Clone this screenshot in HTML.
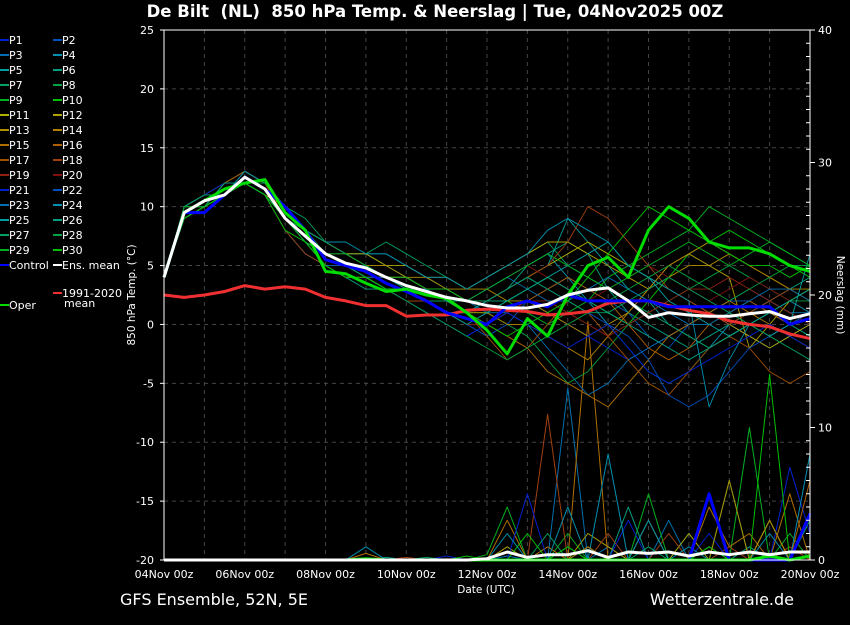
<!DOCTYPE html>
<html><head><meta charset="utf-8">
<style>
html,body{margin:0;padding:0;background:#000;}
body{width:850px;height:620px;overflow:hidden;font-family:"Liberation Sans","DejaVu Sans",sans-serif;}
svg text{fill:#fff;font-family:"DejaVu Sans","Liberation Sans",sans-serif;}
</style></head>
<body>
<svg id="chart" width="850" height="620" xmlns="http://www.w3.org/2000/svg">
<rect x="0" y="0" width="850" height="620" fill="#000"/>
<text x="435" y="17" text-anchor="middle" font-size="16.5" font-weight="bold">De Bilt &#160;(NL) &#160;850 hPa Temp. &amp; Neerslag | Tue, 04Nov2025 00Z</text>
<text x="120" y="605" font-size="16">GFS Ensemble, 52N, 5E</text>
<text x="794" y="605" text-anchor="end" font-size="16">Wetterzentrale.de</text>
<text x="486" y="593" text-anchor="middle" font-size="10.5">Date (UTC)</text>
<text transform="translate(135,295) rotate(-90)" text-anchor="middle" font-size="10.5">850 hPa Temp. (°C)</text>
<text transform="translate(837,295) rotate(90)" text-anchor="middle" font-size="10.5">Neerslag (mm)</text>
<g id="grid"></g>
<g id="precip"></g>
<g id="temps"></g>
<g id="axes"></g>
<g id="legend"></g>
</svg>
<script>
const xLabels=["04Nov 00z","06Nov 00z","08Nov 00z","10Nov 00z","12Nov 00z","14Nov 00z","16Nov 00z","18Nov 00z","20Nov 00z"];
const yTicks=[25,20,15,10,5,0,-5,-10,-15,-20];
const y2Ticks=[40,30,20,10,0];
const memberColors=["#0020d0","#0050c0","#0070b0","#0090b0","#00a0a0","#00a080","#00a060","#00a040","#00b020","#00c000","#b0b000","#b0a000","#b09000","#b08000","#b07000","#b06000","#a05000","#a04010","#902010","#801010"];
const members=[
[4,9,10,11,12,11,9,7,6,5,4,3,2,1,0,-1,0,1,2,1,0,-1,-2,-3,-2,-1,0,1,0,-1,-2,-1,0],
[4,10,11,12,13,12,10,8,6,5,5,4,3,2,1,0,-1,0,2,3,4,3,2,1,-1,-2,0,1,2,2,1,0,-1],
[4,9,10,11,12,11,8,6,5,5,4,4,4,3,2,2,1,1,0,-2,-4,-6,-5,-3,-2,-1,0,1,2,3,2,1,1],
[4,10,11,11,12,12,10,8,6,6,6,6,5,4,3,2,3,4,5,6,4,2,0,-2,-4,-5,-4,-2,0,1,2,1,0],
[4,9,10,12,13,12,10,8,7,6,6,5,4,3,2,1,2,3,4,5,9,7,5,3,2,0,-1,-2,-1,0,1,2,3],
[4,10,11,11,12,11,9,7,6,5,5,4,3,3,2,1,2,3,5,6,7,6,3,1,0,-1,-2,-1,0,1,2,3,4],
[4,10,10,11,13,12,10,9,7,6,6,7,6,5,4,3,4,5,6,7,5,4,3,2,1,0,-1,-2,-1,0,1,0,-1],
[4,9,10,11,12,11,9,7,5,4,4,3,3,2,1,1,1,0,-1,-3,-5,-4,-2,0,1,2,3,4,5,4,3,2,2],
[4,10,11,12,12,11,9,8,6,5,5,4,4,3,3,2,2,2,1,0,1,2,4,5,6,7,8,10,9,8,7,6,5],
[4,9,10,11,12,12,10,8,6,5,4,3,3,2,2,1,1,2,3,4,3,2,1,0,2,4,6,7,8,7,6,5,4],
[4,10,11,11,12,11,9,7,5,5,4,4,4,3,3,2,2,3,4,5,6,7,6,5,4,3,2,1,0,-1,-2,-1,0],
[4,9,10,11,12,11,10,8,7,6,6,5,5,4,4,3,4,5,6,7,7,6,5,4,3,5,6,5,4,-2,0,2,3],
[4,10,10,12,13,12,10,8,6,5,5,5,4,4,3,3,3,2,2,1,0,-1,0,1,3,4,5,5,6,5,4,3,3],
[4,9,10,11,12,11,9,7,6,5,4,3,2,2,1,1,1,0,0,-1,-2,-3,-1,1,3,5,6,7,6,5,4,3,2],
[4,10,11,11,12,11,9,8,7,6,5,4,4,3,2,1,0,-1,-2,-4,-5,-6,-7,-5,-3,-1,0,1,2,1,0,-1,-2],
[4,9,10,11,12,11,9,7,5,5,4,3,3,2,2,1,0,1,2,3,4,3,2,0,-2,-3,-2,0,1,2,1,0,1],
[4,10,11,12,13,12,9,7,5,4,4,3,3,2,2,1,-1,-3,-2,0,2,1,-1,-3,-5,-6,-4,-2,-1,-2,-4,-5,-4],
[4,9,10,11,12,11,8,6,5,4,4,3,2,2,2,2,2,3,4,5,7,10,9,7,5,3,2,1,0,1,2,3,2],
[4,10,10,11,12,12,10,8,6,6,5,4,3,2,1,0,0,1,2,2,1,0,-1,0,1,2,3,3,4,3,2,1,0],
[4,9,10,11,12,11,9,8,7,6,5,4,3,3,2,2,3,4,5,4,3,2,3,4,5,4,3,2,3,4,3,2,1],
[4,10,11,12,12,11,9,7,6,5,4,3,2,1,0,-1,0,1,0,-1,-2,-1,0,-2,-4,-5,-4,-3,-2,-1,0,-1,-2],
[4,9,10,11,12,11,9,7,5,5,4,4,3,2,1,1,2,3,4,3,2,1,0,-1,-3,-6,-7,-6,-4,-2,-1,0,1],
[4,10,11,11,12,11,9,8,6,5,5,4,3,3,2,2,3,4,3,2,2,3,4,3,2,1,0,0,1,2,3,3,2],
[4,9,10,11,13,12,10,8,7,7,6,6,5,4,4,3,4,5,6,8,9,8,7,5,4,3,2,-7,-3,0,1,2,1],
[4,10,10,11,12,11,9,7,6,5,4,3,3,2,1,0,1,2,3,4,5,6,7,5,4,2,1,0,-1,0,-1,0,6],
[4,9,10,12,12,11,9,7,5,4,3,3,3,2,2,1,2,2,3,4,3,2,1,0,-1,-2,-3,-2,-1,0,1,2,3],
[4,10,11,11,12,11,9,8,7,6,5,4,3,2,2,2,2,3,4,3,2,1,1,2,3,4,3,2,1,0,-1,-2,-3],
[4,9,10,11,12,12,10,8,6,5,4,3,2,1,0,-1,-2,-3,-2,-1,0,1,2,3,4,5,4,3,2,3,4,5,5],
[4,10,10,11,12,11,9,7,6,6,5,4,4,3,3,2,3,4,5,6,5,4,3,4,5,6,7,6,5,6,7,6,5],
[4,9,10,11,12,11,8,7,5,4,4,3,3,2,1,1,0,-1,0,1,2,4,6,8,10,9,8,7,6,5,5,4,5]];
const controlTemp=[4,9.5,9.5,11,12.5,11.5,10,8,5.5,5,4.5,3.5,2.8,2,1,0.5,0,1.5,2,1.5,2.5,2,2,2,2,1.5,1.5,1.5,1.5,1.5,1.5,0,0.5];
const meanTemp=[4,9.5,10.5,11,12.5,11.5,9,7.5,6,5.2,4.8,4,3.3,2.8,2.3,2,1.6,1.4,1.4,1.7,2.5,2.9,3.1,2,0.6,1,0.8,0.7,0.7,0.9,1.1,0.5,0.9];
const operTemp=[4,9.5,10.5,11.5,12,12.3,9.5,8,4.5,4.3,3.5,2.8,3,2.5,2.2,1,-0.5,-2.5,0.5,-1,2.5,5,5.7,4,8,10,9,7,6.5,6.5,6,5,4.5];
const climTemp=[2.5,2.3,2.5,2.8,3.3,3,3.2,3,2.3,2,1.6,1.6,0.7,0.8,0.8,1.2,1.3,1.2,1.1,0.8,0.9,1.1,1.8,2,2,1.6,1.2,0.9,0.3,0,-0.2,-0.8,-1.2];
const precipMembers=[
[0,0,0,0,0,0,0,0,0,0,0,0,0,0,0,0,0,0.3,0,0,13,0,1,0,0,3,0,0,0,0,0,0,0],
[0,0,0,0,0,0,0,0,0,0,0,0.2,0,0,0,0,0,0,0,0,1,0,0,4,0,0,2,0,0,1,0,0,3],
[0,0,0,0,0,0,0,0,0,0,0,0,0,0,0,0,0.4,4,0,0,2,0,0,0,5,0,0,1,0,10,0,2,0],
[0,0,0,0,0,0,0,0,0,0,0,0,0,0,0,0,0,1,0,0,0,2,1,0,3,0,2,0,0,0,3,0,0],
[0,0,0,0,0,0,0,0,0,0,0.5,0,0,0,0,0,0,3,0,1,0,18,0,0,0,0,0,4,1,2,0,5,0],
[0,0,0,0,0,0,0,0,0,0,0,0,0.2,0,0,0,0,0,0,11,0,0,2,0,0,2,0,0,1,0,0,1,0],
[0,0,0,0,0,0,0,0,0,0,0,0,0,0,0.3,0,0,0,5,0,0,1,0,3,0,0,0,2,0,0,0,7,2],
[0,0,0,0,0,0,0,0,0,0,1,0,0,0,0,0,0,2,0,0,4,0,8,0,3,0,1,0,0,0,2,0,8],
[0,0,0,0,0,0,0,0,0,0,0,0,0,0.2,0,0,0,0,0,2,0,0,0,0,1,0,0,0,6,0,0,0,0],
[0,0,0,0,0,0,0,0,0,0,0,0,0,0,0,0.3,0,0,2,0,1,0,0,0,0,0,0,1,0,0,14,0,0],
[0,0,0,0,0,0,0,0,0,0,0,0,0,0,0,0,0,0,0,0,0,1,0,0,0,0,0,0,6,0,3,0,0],
[0,0,0,0,0,0,0,0,0,0,0,0,0,0,0,0,0,0,0,0,0,0,0,0,0,0,0,0,0,0,0,0,6]];
const controlPrecip=[0,0,0,0,0,0,0,0,0,0,0,0,0,0,0,0,0,0,0,0,0,0,0,0,0,0,0,5,0,0,0,0,3.5,0,0];
const meanPrecip=[0,0,0,0,0,0,0,0,0,0,0,0,0,0,0,0,0.1,0.6,0.2,0.4,0.4,0.7,0.2,0.6,0.5,0.6,0.3,0.6,0.4,0.6,0.4,0.6,0.6];
const operPrecip=[0,0,0,0,0,0,0,0,0,0,0.1,0,0,0,0,0,0,0,0,0,0,0,0,0,0,0,0,0,0,0,0.3,0,0.3];

const NS="http://www.w3.org/2000/svg";
const X0=164,X1=810,Y0=30,Y1=560;
const xs=i=>X0+(X1-X0)*i/32;
const ys=v=>Y1-(v+20)*(Y1-Y0)/45;
const y2=v=>Y1-v*(Y1-Y0)/40;
function el(tag,attrs,parent){const e=document.createElementNS(NS,tag);for(const k in attrs)e.setAttribute(k,attrs[k]);parent.appendChild(e);return e;}
const grid=document.getElementById('grid'),axes=document.getElementById('axes');
for(let d=1;d<16;d++){const x=X0+(X1-X0)*d/16;
 const l=el('line',{x1:x,x2:x,y1:Y0,y2:Y1,stroke:'#444','stroke-dasharray':'4,4'},grid);
 
 }
yTicks.forEach(v=>{const y=ys(v);
 if(v>-20&&v<25){const l=el('line',{x1:X0,x2:X1,y1:y,y2:y,stroke:'#444','stroke-dasharray':'4,4'},grid);
 
 }
 const t=el('text',{x:X0-10,y:y+4,'text-anchor':'end','font-size':'11'},axes);t.textContent=v;
 
 
 el('line',{x1:X0-4,x2:X0,y1:y,y2:y,stroke:'#fff'},axes);});
y2Ticks.forEach(v=>{const y=y2(v);
 const t=el('text',{x:X1+8,y:y+4,'font-size':'11'},axes);t.textContent=v;
 
 
 el('line',{x1:X1,x2:X1+5,y1:y,y2:y,stroke:'#fff'},axes);});
for(let m=1;m<40;m++){if(m%10===0)continue;const y=y2(m);el('line',{x1:X1-4,x2:X1,y1:y,y2:y,stroke:'#fff'},axes);}
xLabels.forEach((s,i)=>{const x=X0+(X1-X0)*i/8;
 const t=el('text',{x:x,y:Y1+18,'text-anchor':'middle','font-size':'11'},axes);t.textContent=s;
 
 });
el('rect',{x:X0,y:Y0,width:X1-X0,height:Y1-Y0,fill:'none',stroke:'#fff','stroke-width':1},axes);

function poly(arr,f,color,w,parent,name){
 const pts=arr.slice(0,33).map((v,i)=>xs(i).toFixed(1)+','+f(v).toFixed(1)).join(' ');
 const p=el('polyline',{points:pts,fill:'none',stroke:color,'stroke-width':w,'stroke-linejoin':'round'},parent);
 
 }
const pg=document.getElementById('precip'),tg=document.getElementById('temps');
precipMembers.forEach((a,i)=>poly(a,y2,memberColors[(i*3+2)%20],1,pg,'precip-member'));
members.forEach((a,i)=>poly(a,ys,memberColors[i%20],0.9,tg,'temp-member-p'+(i+1)));
poly(climTemp,ys,'#f03030',3,tg,'climate-mean-line');
poly(controlTemp,ys,'#0000ff',3,tg,'control-temp-line');
poly(operTemp,ys,'#00dd00',3,tg,'oper-temp-line');
poly(meanTemp,ys,'#ffffff',3,tg,'ens-mean-temp-line');
poly(controlPrecip,y2,'#0000ff',3,pg,'control-precip-line');
poly(operPrecip,y2,'#00dd00',3,pg,'oper-precip-line');
poly(meanPrecip,y2,'#ffffff',3,pg,'ens-mean-precip-line');

const lg=document.getElementById('legend');
function entry(x,y,color,label,name){
 el('line',{x1:x,x2:x+9,y1:y,y2:y,stroke:color,'stroke-width':2},lg);
 const t=el('text',{x:x+9,y:y+4,'font-size':'11'},lg);t.textContent=label;
 
 }
for(let i=0;i<30;i++){const col=i%2,row=Math.floor(i/2);
 entry(col?53:0,40+row*15,memberColors[i%20],'P'+(i+1),'legend-entry-p'+(i+1));}
entry(0,265,'#0000ff','Control','legend-entry-control');
entry(53,265,'#ffffff','Ens. mean','legend-entry-ens-mean');
entry(0,305,'#00dd00','Oper','legend-entry-oper');
entry(53,293,'#f03030','1991-2020','legend-entry-climate');
const t2=el('text',{x:64,y:307,'font-size':'11'},lg);t2.textContent='mean';


</script>
</body></html>
